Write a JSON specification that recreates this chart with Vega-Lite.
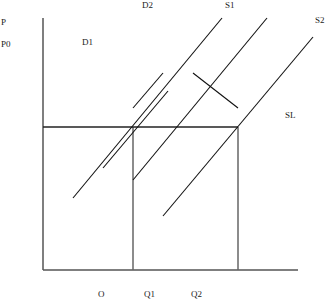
{
  "$schema": "https://vega.github.io/schema/vega-lite/v6.json",
  "width": 325,
  "height": 299,
  "autosize": {"type": "none"},
  "padding": 0,
  "background": "white",
  "config": {"view": {"stroke": null}},
  "datasets": {
    "segments": [
      {"kind": "axis", "x1": 0, "y1": 0, "x2": 0, "y2": 252},
      {"kind": "axis", "x1": 0, "y1": 0, "x2": 255, "y2": 0},
      {"kind": "price", "x1": 0, "y1": 143, "x2": 195, "y2": 143},
      {"kind": "qty", "x1": 90, "y1": 0, "x2": 90, "y2": 143},
      {"kind": "qty", "x1": 195, "y1": 0, "x2": 195, "y2": 143},
      {"kind": "curve", "x1": 30, "y1": 72, "x2": 179, "y2": 252},
      {"kind": "curve", "x1": 90, "y1": 90, "x2": 224, "y2": 252},
      {"kind": "curve", "x1": 120, "y1": 54, "x2": 270, "y2": 233},
      {"kind": "curve", "x1": 90, "y1": 162, "x2": 120, "y2": 197},
      {"kind": "curve", "x1": 60, "y1": 102, "x2": 125, "y2": 179},
      {"kind": "curve", "x1": 150, "y1": 197, "x2": 195, "y2": 162}
    ],
    "labels": [
      {"label": "P", "x": -42, "y": 248},
      {"label": "P0", "x": -42, "y": 226},
      {"label": "D1", "x": 39, "y": 228},
      {"label": "D2", "x": 99, "y": 265},
      {"label": "S1", "x": 182, "y": 265},
      {"label": "S2", "x": 272, "y": 250},
      {"label": "SL", "x": 242, "y": 155},
      {"label": "O", "x": 55, "y": -24},
      {"label": "Q1", "x": 101, "y": -24},
      {"label": "Q2", "x": 148, "y": -24}
    ]
  },
  "layer": [
    {
      "data": {"name": "segments"},
      "transform": [{"filter": "datum.kind === 'axis'"}],
      "mark": {"type": "rule", "color": "#555555", "strokeWidth": 1.5},
      "encoding": {
        "x": {"field": "x1", "type": "quantitative", "scale": {"domain": [-43, 282], "nice": false, "zero": false}, "axis": null},
        "y": {"field": "y1", "type": "quantitative", "scale": {"domain": [-29, 270], "nice": false, "zero": false}, "axis": null},
        "x2": {"field": "x2"},
        "y2": {"field": "y2"}
      }
    },
    {
      "data": {"name": "segments"},
      "transform": [{"filter": "datum.kind === 'qty'"}],
      "mark": {"type": "rule", "color": "#666666", "strokeWidth": 1.5},
      "encoding": {
        "x": {"field": "x1", "type": "quantitative", "scale": {"domain": [-43, 282], "nice": false, "zero": false}, "axis": null},
        "y": {"field": "y1", "type": "quantitative", "scale": {"domain": [-29, 270], "nice": false, "zero": false}, "axis": null},
        "x2": {"field": "x2"},
        "y2": {"field": "y2"}
      }
    },
    {
      "data": {"name": "segments"},
      "transform": [{"filter": "datum.kind === 'price'"}],
      "mark": {"type": "rule", "color": "#222222", "strokeWidth": 1.5},
      "encoding": {
        "x": {"field": "x1", "type": "quantitative", "scale": {"domain": [-43, 282], "nice": false, "zero": false}, "axis": null},
        "y": {"field": "y1", "type": "quantitative", "scale": {"domain": [-29, 270], "nice": false, "zero": false}, "axis": null},
        "x2": {"field": "x2"},
        "y2": {"field": "y2"}
      }
    },
    {
      "data": {"name": "segments"},
      "transform": [{"filter": "datum.kind === 'curve'"}],
      "mark": {"type": "rule", "color": "#111111", "strokeWidth": 1.1},
      "encoding": {
        "x": {"field": "x1", "type": "quantitative", "scale": {"domain": [-43, 282], "nice": false, "zero": false}, "axis": null},
        "y": {"field": "y1", "type": "quantitative", "scale": {"domain": [-29, 270], "nice": false, "zero": false}, "axis": null},
        "x2": {"field": "x2"},
        "y2": {"field": "y2"}
      }
    },
    {
      "data": {"name": "labels"},
      "mark": {"type": "text", "align": "left", "baseline": "middle", "font": "Liberation Serif", "fontSize": 9, "color": "#222222"},
      "encoding": {
        "x": {"field": "x", "type": "quantitative", "scale": {"domain": [-43, 282], "nice": false, "zero": false}, "axis": null},
        "y": {"field": "y", "type": "quantitative", "scale": {"domain": [-29, 270], "nice": false, "zero": false}, "axis": null},
        "text": {"field": "label"}
      }
    }
  ]
}
